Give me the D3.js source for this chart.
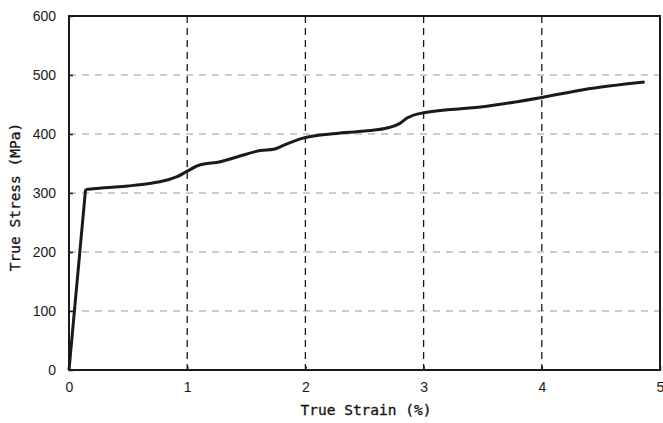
<!DOCTYPE html>
<html>
<head>
<meta charset="utf-8">
<script src="https://cdn.jsdelivr.net/npm/d3@7"></script>
<style>
  body { margin: 0; background: #fff; }
  .tick text { font-family: "Liberation Sans", Arial, sans-serif; font-size: 14px; fill: #1a1a1a; }
  .title { font-family: "DejaVu Sans Mono", monospace; font-size: 14.5px; fill: #111; stroke: #111; stroke-width: 0.3px; }
</style>
</head>
<body>
<svg width="663" height="423"></svg>
<script>
const strain = [0, 0.14, 0.3, 0.5, 0.68, 0.83, 0.92, 1.0, 1.1, 1.28, 1.42, 1.62, 1.73, 1.84, 1.98, 2.26, 2.5, 2.71, 2.8, 2.86, 3.0, 3.5, 4.0, 4.35, 4.87];
const stress = [0, 306, 309, 312, 316, 322, 328, 337, 347, 353, 361, 372, 374, 383, 393, 401, 405, 411, 418, 427, 436, 446, 462, 475, 488];
const xTicks = [0, 1, 2, 3, 4, 5];
const yTicks = [0, 100, 200, 300, 400, 500, 600];

const svg = d3.select("svg");
const mLeft = 69, mRight = 660, mTop = 16, mBottom = 370;

const x = d3.scaleLinear().domain([0, 5]).range([mLeft, mRight]);
const y = d3.scaleLinear().domain([0, 600]).range([mBottom, mTop]);

// horizontal grid (faint in the scan)
svg.append("g")
  .selectAll("line")
  .data(yTicks.slice(1, -1))
  .join("line")
    .attr("x1", mLeft).attr("x2", mRight)
    .attr("y1", d => y(d)).attr("y2", d => y(d))
    .attr("stroke", "#999")
    .attr("stroke-width", 1)
    .attr("stroke-dasharray", "7,6");

// vertical grid
svg.append("g")
  .selectAll("line")
  .data(xTicks.slice(1, -1))
  .join("line")
    .attr("x1", d => x(d)).attr("x2", d => x(d))
    .attr("y1", mTop).attr("y2", mBottom)
    .attr("stroke", "#1a1a1a")
    .attr("stroke-width", 1.3)
    .attr("stroke-dasharray", "7,5");

const xAxis = svg.append("g")
    .attr("transform", `translate(0,${mBottom})`)
    .call(d3.axisBottom(x).tickValues(xTicks).tickFormat(d3.format("d")).tickSize(-4).tickPadding(12));
xAxis.select(".domain").remove();

const yAxis = svg.append("g")
    .attr("transform", `translate(${mLeft},0)`)
    .call(d3.axisLeft(y).tickValues(yTicks).tickSize(-4).tickPadding(13));
yAxis.select(".domain").remove();

svg.selectAll(".tick line").attr("stroke", "#1a1a1a").attr("stroke-width", 1.5);

// frame
svg.append("rect")
    .attr("x", mLeft).attr("y", mTop)
    .attr("width", mRight - mLeft).attr("height", mBottom - mTop)
    .attr("fill", "none")
    .attr("stroke", "#1a1a1a")
    .attr("stroke-width", 2);

const pts = strain.map((s, i) => [s, stress[i]]);

// elastic part straight, then smooth plastic part
svg.append("path")
    .attr("fill", "none")
    .attr("stroke", "#1a1a1a")
    .attr("stroke-width", 3)
    .attr("d", d3.line().x(d => x(d[0])).y(d => y(d[1]))(pts.slice(0, 2)));

svg.append("path")
    .attr("fill", "none")
    .attr("stroke", "#1a1a1a")
    .attr("stroke-width", 3)
    .attr("stroke-linejoin", "round")
    .attr("d", d3.line().curve(d3.curveMonotoneX).x(d => x(d[0])).y(d => y(d[1]))(pts.slice(1)));

svg.append("text")
    .attr("class", "title")
    .attr("x", 366).attr("y", 415)
    .attr("text-anchor", "middle")
    .text("True Strain (%)");

svg.append("text")
    .attr("class", "title")
    .attr("transform", "translate(20,197) rotate(-90)")
    .attr("text-anchor", "middle")
    .text("True Stress (MPa)");
</script>
</body>
</html>
